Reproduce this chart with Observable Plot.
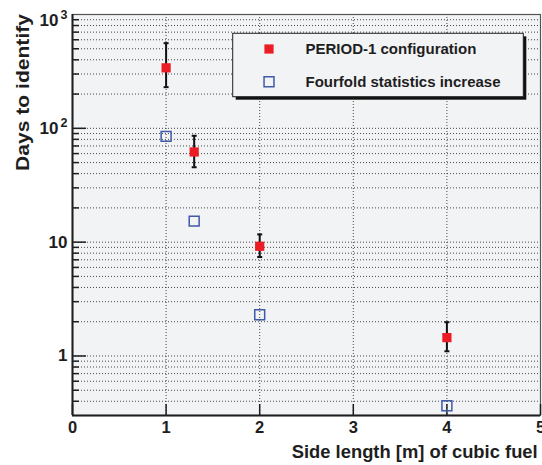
<!DOCTYPE html>
<html>
<head>
<meta charset="utf-8">
<script src="https://cdn.jsdelivr.net/npm/d3@7"></script>
<script src="https://cdn.jsdelivr.net/npm/@observablehq/plot@0.6"></script>
<style>
  html, body { margin: 0; padding: 0; background: #fff; }
  #chart svg { display: block; font-family: "Liberation Sans", Arial, Helvetica, sans-serif; }
</style>
</head>
<body>
<div id="chart"></div>
<script>
// Days needed to identify the configuration, versus cube side length
const sideLength   = [1, 1.3, 2, 4];
const period1Days  = [340, 62, 9.2, 1.45];
const period1Low   = [230, 45.5, 7.4, 1.1];
const period1High  = [560, 86, 11.7, 1.98];
const fourfoldDays = [85, 15.3, 2.3, 0.365];

const seriesNames = ["PERIOD-1 configuration", "Fourfold statistics increase"];
const xTickValues = [0, 1, 2, 3, 4, 5];
const xGridValues = [1, 2, 3, 4];
const yDecades    = [0.1, 1, 10, 100];
const yTickValues = [1, 10, 100, 1000];
const yTickBase   = ["1", "10", "10", "10"];
const yTickExp    = ["", "", "2", "3"];
const xTitle = "Side length [m] of cubic fuel";
const yTitle = "Days to identify";

// layout
const W = 542, H = 465, mL = 72, mR = 2, mT = 14, mB = 50;
const plotW = W - mL - mR, plotH = H - mT - mB;
const yDomain = [0.3, 1000];
const bg = "#f2f3f5";
const ink = "#1e1e1e";
const red = "#ec1c24";
const blue = "#3f5aa8";

const period1 = sideLength.map((x, i) => ({x, y: period1Days[i], lo: period1Low[i], hi: period1High[i]}));
const fourfold = sideLength.map((x, i) => ({x, y: fourfoldDays[i]}));

// every 1..9 × decade inside the frame
const yGrid = yDecades.flatMap(d => d3.range(1, 10).map(k => +(k * d).toPrecision(3)))
  .filter(v => v > yDomain[0] * 1.01 && v < yDomain[1]);
const yMinor = yGrid.filter(v => !yTickValues.includes(v));
const yMajor = yTickValues.filter(v => v < yDomain[1]);

const capSymbol = { draw(ctx) { ctx.moveTo(-2.5, 0); ctx.lineTo(2.5, 0); } };
const redR = 5.2, blueR = 5.6;

const plainLabels = yTickValues.filter((v, i) => !yTickExp[i]);
const powerLabels = yTickValues.filter((v, i) => yTickExp[i]);
const powerMarks = powerLabels.flatMap(v => {
  const i = yTickValues.indexOf(v);
  const shift = v >= yDomain[1] ? 5.7 : 0; // the top label sits just below the frame edge
  return [
    Plot.text([v], {y: d => d, text: () => yTickBase[i], frameAnchor: "left", textAnchor: "end",
      dx: -14, dy: shift, fontSize: 17, fontWeight: "bold", fill: ink}),
    Plot.text([v], {y: d => d, text: () => yTickExp[i], frameAnchor: "left", textAnchor: "end",
      dx: -5, dy: shift - 5, fontSize: 12.5, fontWeight: "bold", fill: ink})
  ];
});

const grid = {stroke: "#333", strokeWidth: 1, strokeDasharray: "1,2", strokeOpacity: 0.9};

const chart = Plot.plot({
  width: W, height: H,
  marginLeft: mL, marginRight: mR, marginTop: mT, marginBottom: mB,
  x: {domain: [0, 5], axis: null},
  y: {type: "log", domain: yDomain, axis: null},
  marks: [
    Plot.frame({fill: bg}),
    Plot.ruleY(yGrid, {y: d => d, ...grid}),
    Plot.ruleX(xGridValues, {x: d => d, ...grid}),
    Plot.frame({stroke: "#555", strokeWidth: 1.2}),
    // inward ticks
    Plot.ruleY(yMinor, {y: d => d, insetRight: plotW - 7, stroke: ink, strokeWidth: 1.5}),
    Plot.ruleY(yMajor, {y: d => d, insetRight: plotW - 14, stroke: ink, strokeWidth: 1.5}),
    Plot.ruleX(xTickValues, {x: d => d, insetTop: plotH - 11, stroke: ink, strokeWidth: 1.5}),
    // axis lines
    Plot.ruleX([0], {stroke: ink, strokeWidth: 2}),
    Plot.ruleY([yDomain[0]], {stroke: ink, strokeWidth: 2}),
    // tick labels
    Plot.text(xTickValues, {x: d => d, text: d => String(d), frameAnchor: "bottom", lineAnchor: "top",
      dy: 6, fontSize: 16.5, fontWeight: "bold", fill: ink}),
    Plot.text(plainLabels, {y: d => d, text: d => yTickBase[yTickValues.indexOf(d)], frameAnchor: "left",
      textAnchor: "end", dx: -5, fontSize: 17, fontWeight: "bold", fill: ink}),
    ...powerMarks,
    // data
    Plot.ruleX(period1, {x: "x", y1: "lo", y2: "hi", stroke: "#111", strokeWidth: 2}),
    Plot.dot(period1, {x: "x", y: "lo", symbol: capSymbol, r: 3, fill: "none", stroke: "#111", strokeWidth: 2}),
    Plot.dot(period1, {x: "x", y: "hi", symbol: capSymbol, r: 3, fill: "none", stroke: "#111", strokeWidth: 2}),
    Plot.dot(period1, {x: "x", y: "y", symbol: "square", r: redR, fill: red, stroke: "none"}),
    Plot.dot(fourfold, {x: "x", y: "y", symbol: "square", r: blueR, fill: "none", stroke: blue, strokeWidth: 1.5})
  ]
});

document.getElementById("chart").appendChild(chart);
const svg = d3.select(chart);

// axis titles (right / top aligned)
svg.append("text")
  .attr("x", 291.7).attr("y", 458).attr("text-anchor", "start")
  .attr("textLength", 246).attr("lengthAdjust", "spacingAndGlyphs")
  .attr("font-size", 18).attr("font-weight", "bold").attr("fill", ink)
  .text(xTitle);
svg.append("text")
  .attr("transform", "translate(29,171) rotate(-90)").attr("text-anchor", "start")
  .attr("textLength", 157).attr("lengthAdjust", "spacingAndGlyphs")
  .attr("font-size", 18).attr("font-weight", "bold").attr("fill", ink)
  .text(yTitle);

// legend box with drop shadow
const lg = svg.append("g").attr("text-anchor", "start");
const box = {x: 232.7, y: 33.3, w: 290.6, h: 63.4};
lg.append("rect").attr("x", box.x + 3).attr("y", box.y + 3).attr("width", box.w).attr("height", box.h).attr("fill", "#111");
lg.append("rect").attr("x", box.x).attr("y", box.y).attr("width", box.w).attr("height", box.h)
  .attr("fill", bg).attr("stroke", "#222").attr("stroke-width", 1);
const sq = r => d3.symbol(d3.symbolSquare, r * r * Math.PI)();
lg.append("path").attr("transform", "translate(269,49)").attr("d", sq(redR)).attr("fill", red);
lg.append("path").attr("transform", "translate(269,81.7)").attr("d", sq(blueR))
  .attr("fill", "none").attr("stroke", blue).attr("stroke-width", 1.5);
[54, 86.7].forEach((yb, i) => {
  lg.append("text").attr("x", 305.5).attr("y", yb).attr("text-anchor", "start")
    .attr("font-size", 15).attr("font-weight", "bold").attr("fill", ink)
    .text(seriesNames[i]);
});
</script>
</body>
</html>
